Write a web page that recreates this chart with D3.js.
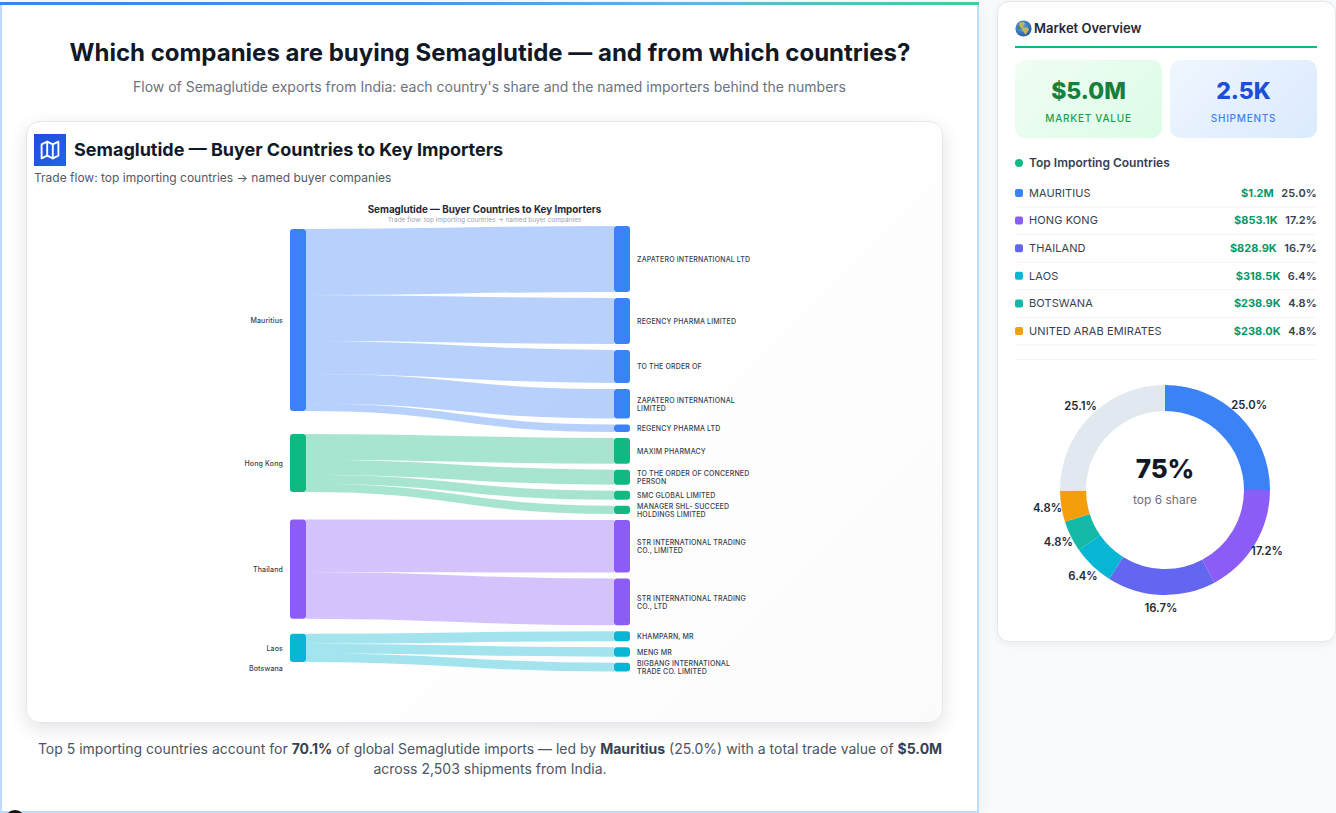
<!DOCTYPE html>
<html><head><meta charset="utf-8">
<script src="https://cdn.jsdelivr.net/npm/d3@7"></script>
<style>
*{box-sizing:border-box}
html,body{margin:0;padding:0;width:1336px;height:813px;overflow:hidden;background:#f8fafc;font-family:Inter,sans-serif}
.abs{position:absolute}
#main{left:0;top:2px;width:979px;height:811px;background:#fff;border-left:2px solid #bfdbfe;border-right:2px solid #bfdbfe;border-bottom:2px solid #bfdbfe;box-shadow:0 4px 16px rgba(15,23,42,.06)}
#bar{left:0;top:2px;width:979px;height:3px;background:linear-gradient(90deg,#3b82f6 0%,#4a90ee 40%,#68b4dd 72%,#34d399 100%)}
#blob{left:5px;top:810px;width:20px;height:20px;border-radius:50%;background:#111}
#title{left:0.5px;top:38px;width:979px;text-align:center;font-size:24px;line-height:30px;font-weight:700;color:#111827}
#sub{left:0;top:78px;width:979px;text-align:center;font-size:14px;line-height:18px;color:#6b7280}
#card{left:25.5px;top:121px;width:917.5px;height:602px;border:1px solid #e5e7eb;border-radius:14px;background:linear-gradient(135deg,#fff 50%,#fbfbfb 100%);box-shadow:0 6px 18px rgba(15,23,42,.12)}
#icon{left:34px;top:134px;width:32px;height:32px;background:linear-gradient(135deg,#1d4ed8,#2563eb)}
#ctitle{left:74px;top:138px;font-size:18px;line-height:24px;font-weight:700;color:#111827}
#csub{left:34px;top:170px;font-size:12px;line-height:16px;color:#525a66}
#foot{left:20px;top:739px;width:940px;text-align:center;font-size:14px;line-height:20px;color:#4b5563}
#foot b{font-weight:700;color:#374151}
#side{left:996.5px;top:0.5px;width:339.5px;height:641px;background:#fff;border:1px solid #e5e7eb;border-radius:12px;box-shadow:0 2px 8px rgba(15,23,42,.06)}
#mo{left:1034px;top:20px;font-size:13px;line-height:17px;font-weight:600;color:#1f2937}
#rule{left:1015px;top:46px;width:302px;height:2px;background:#10b981}
.stat{top:60px;width:147px;height:78px;border-radius:10px;text-align:center}
.stat .v{position:absolute;left:0;width:100%;top:17px;font-size:23px;line-height:28px;font-weight:800}
.stat .l{position:absolute;left:0;width:100%;top:52px;font-size:10px;line-height:13px;letter-spacing:.75px;font-weight:500}
#dot{left:1015px;top:159px;width:8px;height:8px;border-radius:50%;background:#10b981}
#top{left:1029px;top:155px;font-size:12px;line-height:16px;font-weight:600;color:#374151}
#chart{left:0;top:0}
</style></head><body>
<div class="abs" id="main"></div><div class="abs" id="bar"></div><div class="abs" id="blob"></div>
<div class="abs" id="title">Which companies are buying Semaglutide — and from which countries?</div>
<div class="abs" id="sub">Flow of Semaglutide exports from India: each country's share and the named importers behind the numbers</div>
<div class="abs" id="card"></div>
<div class="abs" id="icon"><svg width="32" height="32" viewBox="0 0 24 24" fill="none" stroke="#fff" stroke-width="2" stroke-linejoin="round" stroke-linecap="round"><g transform="translate(3.6 3.6) scale(.7)"><path d="M3 6l6-3 6 3 6-3v15l-6 3-6-3-6 3z"/><path d="M9 3v15M15 6v15"/></g></svg></div>
<div class="abs" id="ctitle">Semaglutide — Buyer Countries to Key Importers</div>
<div class="abs" id="csub">Trade flow: top importing countries → named buyer companies</div>
<div class="abs" id="foot">Top 5 importing countries account for <b>70.1%</b> of global Semaglutide imports — led by <b>Mauritius</b> (25.0%) with a total trade value of <b>$5.0M</b><br>across 2,503 shipments from India.</div>
<div class="abs" id="side"></div>
<svg class="abs" style="left:1015px;top:20px" width="17" height="17" viewBox="0 0 16 16"><defs><radialGradient id="g" cx=".4" cy=".35" r=".8"><stop offset="0" stop-color="#5aa7e6"/><stop offset="1" stop-color="#1c4f94"/></radialGradient></defs><circle cx="8" cy="8" r="7.6" fill="url(#g)"/><path d="M4 2.6l4-1 1.5 2.2-2 1.4.8 2.2 3-.6 2 2-2.2 3.4-1.6 2-1-3-2-1.4.4-2.2-2.6-1.6z" fill="#c8b25a"/><path d="M2 6l2-1 1 2-1 2-2-1z" fill="#4f8a3c"/></svg>
<div class="abs" id="mo">Market Overview</div><div class="abs" id="rule"></div>
<div class="abs stat" style="left:1015px;background:linear-gradient(135deg,#f0fdf4,#dcfce7)"><div class="v" style="color:#15803d">$5.0M</div><div class="l" style="color:#16a34a">MARKET VALUE</div></div>
<div class="abs stat" style="left:1170px;background:linear-gradient(135deg,#eff6ff,#dbeafe)"><div class="v" style="color:#1d4ed8">2.5K</div><div class="l" style="color:#3b82f6">SHIPMENTS</div></div>
<div class="abs" id="dot"></div><div class="abs" id="top">Top Importing Countries</div>
<svg class="abs" id="chart" width="1336" height="813"></svg>
<script>
// ---------- data ----------
const flowCountries = ["Mauritius","Hong Kong","Thailand","Laos","Botswana"];
const flowColors = ["#3b82f6","#10b981","#8b5cf6","#06b6d4","#14b8a6"];
const importers = ["ZAPATERO INTERNATIONAL LTD","REGENCY PHARMA LIMITED","TO THE ORDER OF","ZAPATERO INTERNATIONAL LIMITED","REGENCY PHARMA LTD","MAXIM PHARMACY","TO THE ORDER OF CONCERNED PERSON","SMC GLOBAL LIMITED","MANAGER SHL- SUCCEED HOLDINGS LIMITED","STR INTERNATIONAL TRADING CO., LIMITED","STR INTERNATIONAL TRADING CO., LTD","KHAMPARN, MR","MENG MR","BIGBANG INTERNATIONAL TRADE CO. LIMITED"];
const importerCountry = ["Mauritius","Mauritius","Mauritius","Mauritius","Mauritius","Hong Kong","Hong Kong","Hong Kong","Hong Kong","Thailand","Thailand","Laos","Laos","Laos"];
const importerValues = [447,312,224,200,51,174,102,61,56,357,316,68,64,60];
const listCountries = ["MAURITIUS","HONG KONG","THAILAND","LAOS","BOTSWANA","UNITED ARAB EMIRATES"];
const listValues = ["$1.2M","$853.1K","$828.9K","$318.5K","$238.9K","$238.0K"];
const listShares = [25.0,17.2,16.7,6.4,4.8,4.8];
const listColors = ["#3b82f6","#8b5cf6","#6366f1","#06b6d4","#14b8a6","#f59e0b"];
const otherShare = 25.1, otherColor = "#e2e8f0";

// ---------- sankey layout ----------
const svg = d3.select("#chart");
const font = "Inter,sans-serif";
const bandScale = d3.scaleLinear().domain([0,1234]).range([0,182]);
const leftX = 290, rightX = 614, nodeW = 16, rightTop = 226, rightPad = 6, leftTop = 229;
const leftGaps = [23,27.5,15,6];
const g = svg.append("g");
g.append("text").attr("x",484.5).attr("y",212.5).attr("text-anchor","middle").attr("font-family",font).attr("font-size",9.8).attr("font-weight",700).attr("fill","#1f2937").text("Semaglutide — Buyer Countries to Key Importers");
g.append("text").attr("x",484.5).attr("y",222).attr("text-anchor","middle").attr("font-family",font).attr("font-size",6.5).attr("fill","#9ca3af").text("Trade flow: top importing countries → named buyer companies");

const colorOf = d3.scaleOrdinal(flowCountries,flowColors);
const totals = d3.rollup(importers.map((d,i)=>i),v=>d3.sum(v,i=>importerValues[i]),i=>importerCountry[i]);
let ly = leftTop;
const leftNodes = flowCountries.map((c,i)=>{
  const h = bandScale(totals.get(c)||0);
  const n = {name:c,y0:ly,y1:ly+h,cursor:ly,color:colorOf(c)};
  ly += h + (leftGaps[i]||0);
  return n;
});
const byName = new Map(leftNodes.map(n=>[n.name,n]));
let ry = rightTop;
const rightNodes = importers.map((name,i)=>{
  const h = bandScale(importerValues[i]);
  const src = byName.get(importerCountry[i]);
  const n = {name,y0:ry,y1:ry+h,h,src,color:src.color,sy:src.cursor+h/2};
  src.cursor += h; ry += h + rightPad;
  return n;
});
const linkGen = d3.linkHorizontal().x(d=>d[0]).y(d=>d[1]);
g.append("g").selectAll("path").data(rightNodes).join("path")
  .attr("d",d=>linkGen({source:[leftX+nodeW,d.sy],target:[rightX,(d.y0+d.y1)/2]}))
  .attr("fill","none").attr("stroke",d=>d.color).attr("stroke-opacity",.37).attr("stroke-width",d=>d.h);
g.append("g").selectAll("rect").data(leftNodes.filter(n=>n.y1>n.y0)).join("rect")
  .attr("x",leftX).attr("y",d=>d.y0).attr("width",nodeW).attr("height",d=>d.y1-d.y0).attr("rx",3).attr("fill",d=>d.color);
g.append("g").selectAll("rect").data(rightNodes).join("rect")
  .attr("x",rightX).attr("y",d=>d.y0).attr("width",nodeW).attr("height",d=>d.h).attr("rx",3).attr("fill",d=>d.color);
g.append("g").selectAll("text").data(leftNodes).join("text")
  .attr("x",leftX-7).attr("y",d=>(d.y0+d.y1)/2+0.8).attr("dy","0.35em").attr("text-anchor","end")
  .attr("font-family",font).attr("font-size",7).attr("font-weight",500).attr("letter-spacing",.15).attr("fill","#374151").text(d=>d.name);
const rl = g.append("g").selectAll("text").data(rightNodes).join("text")
  .attr("x",rightX+nodeW+7).attr("font-family",font).attr("font-size",7).attr("font-weight",500).attr("letter-spacing",.15).attr("fill","#374151");
rl.each(function(d){
  const t = d3.select(this);
  const words = d.name.split(" "), lines = []; let cur = "";
  const ts = t.append("tspan");
  words.forEach(w=>{
    const next = cur ? cur+" "+w : w;
    ts.text(next);
    if (ts.node().getComputedTextLength()>116 && cur){lines.push(cur);cur=w;} else cur=next;
  });
  lines.push(cur); ts.remove();
  const mid=(d.y0+d.y1)/2+0.4, lh=8;
  lines.forEach((l,i)=>t.append("tspan").attr("x",rightX+nodeW+7).attr("y",mid+(i-(lines.length-1)/2)*lh).attr("dy","0.35em").text(l));
});

// ---------- country list ----------
const rowY = d3.scalePoint().domain(listCountries).range([193,331]);
const rows = svg.append("g").selectAll("g").data(listCountries).join("g");
rows.append("rect").attr("x",1015).attr("y",d=>rowY(d)-4).attr("width",8).attr("height",8).attr("rx",2).attr("fill",(d,i)=>listColors[i]);
rows.append("text").attr("x",1029).attr("y",d=>rowY(d)).attr("dy","0.35em").attr("font-family",font).attr("font-size",11).attr("letter-spacing",.1).attr("fill","#374151").text(d=>d);
const pcts = rows.append("text").attr("x",1317).attr("y",d=>rowY(d)).attr("dy","0.35em").attr("text-anchor","end").attr("font-family",font).attr("font-size",11).attr("font-weight",600).attr("letter-spacing",.15).attr("fill","#374151").text((d,i)=>listShares[i].toFixed(1)+"%");
rows.append("text").attr("x",function(d,i){return 1317-pcts.nodes()[i].getComputedTextLength()-7.5;}).attr("y",d=>rowY(d)).attr("dy","0.35em").attr("text-anchor","end").attr("font-family",font).attr("font-size",11).attr("font-weight",700).attr("fill","#059669").text((d,i)=>listValues[i]);
rows.append("line").attr("x1",1015).attr("x2",1317).attr("y1",d=>rowY(d)+14).attr("y2",d=>rowY(d)+14).attr("stroke","#f1f5f9");
svg.append("line").attr("x1",1015).attr("x2",1317).attr("y1",359.5).attr("y2",359.5).attr("stroke","#f1f5f9");

// ---------- donut ----------
const donutVals = listShares.concat([otherShare]);
const donutCols = listColors.concat([otherColor]);
const pie = d3.pie().sort(null).value(d=>d)(donutVals);
const donut = svg.append("g").attr("transform","translate(1165,490)");
const arc = d3.arc().innerRadius(79).outerRadius(105);
const labelArc = d3.arc().innerRadius(119).outerRadius(119);
donut.selectAll("path").data(pie).join("path").attr("d",arc).attr("fill",(d,i)=>donutCols[i]);
donut.selectAll("text.l").data(pie).join("text").attr("class","l").attr("transform",d=>`translate(${labelArc.centroid(d)})`)
  .attr("dy","0.3em").attr("text-anchor","middle").attr("font-family",font).attr("font-size",11.3).attr("font-weight",600).attr("fill","#1f2937").text(d=>d.value.toFixed(1)+"%");
donut.append("text").attr("y",-12).attr("text-anchor","middle").attr("font-family",font).attr("font-size",26).attr("font-weight",800).attr("fill","#111827").text("75%");
donut.append("text").attr("y",14).attr("text-anchor","middle").attr("font-family",font).attr("font-size",12).attr("fill","#6b7280").text("top 6 share");
</script>
</body></html>
